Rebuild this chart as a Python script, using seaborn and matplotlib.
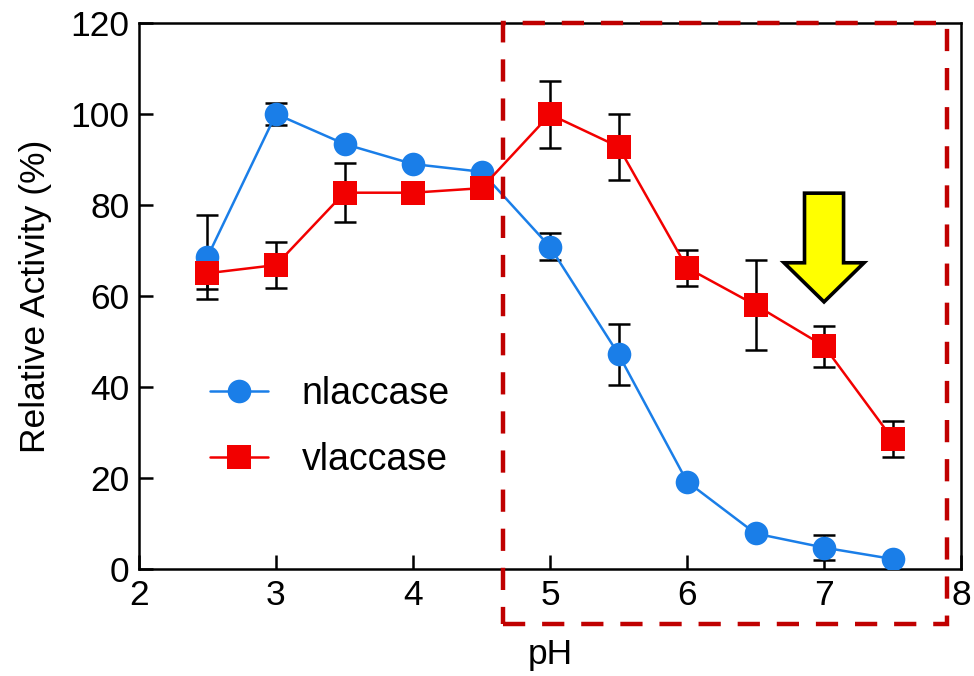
import matplotlib
matplotlib.use("Agg")
import matplotlib.pyplot as plt
from matplotlib.patches import Rectangle, Polygon
import numpy as np
import pandas as pd
import seaborn as sns

# pH values and relative activity (%) with error (SD)
ph = [2.5, 3.0, 3.5, 4.0, 4.5, 5.0, 5.5, 6.0, 6.5, 7.0, 7.5]
nlaccase = [68.6, 100.0, 93.4, 89.0, 87.3, 70.8, 47.2, 19.2, 7.8, 4.7, 2.2]
nlaccase_err = [9.2, 2.4, 0.0, 0.0, 0.0, 3.0, 6.7, 0.0, 0.0, 2.8, 0.0]
vlaccase = [65.0, 66.8, 82.7, 82.7, 83.7, 99.9, 92.8, 66.2, 58.0, 49.0, 28.6]
vlaccase_err = [3.5, 5.0, 6.5, 0.0, 0.0, 7.3, 7.2, 4.0, 9.8, 4.5, 4.0]

series_names = ["nlaccase", "vlaccase"]
series_colors = {"nlaccase": "#1a7ee8", "vlaccase": "#f20000"}
series_markers = {"nlaccase": "o", "vlaccase": "s"}

df = pd.DataFrame({
    "pH": ph * 2,
    "activity": nlaccase + vlaccase,
    "err": nlaccase_err + vlaccase_err,
    "enzyme": ["nlaccase"] * len(ph) + ["vlaccase"] * len(ph),
})

sns.set_style("ticks")
plt.rcParams["font.family"] = ["Liberation Sans", "DejaVu Sans"]
plt.rcParams["text.color"] = "black"
plt.rcParams["axes.labelcolor"] = "black"

FS = 25.5

fig = plt.figure(figsize=(9.74, 6.76), dpi=100)
ax = fig.add_axes([0.1427, 0.1583, 0.8440, 0.8077])

# error bars first, so markers sit on top of them
for name in series_names:
    sub = df[df["enzyme"] == name]
    sub = sub[sub["err"] > 0]
    ax.errorbar(sub["pH"], sub["activity"], yerr=sub["err"], fmt="none",
                ecolor="black", elinewidth=1.8, capsize=8, capthick=1.8,
                zorder=2)

sns.lineplot(data=df, x="pH", y="activity", hue="enzyme", style="enzyme",
             hue_order=series_names, style_order=series_names,
             palette=series_colors, markers=series_markers, dashes=False,
             linewidth=1.8, markersize=17, markeredgewidth=0,
             ax=ax, zorder=3, legend=True)

for line in ax.lines:
    line.set_zorder(3)

ax.set_xlim(2, 8)
ax.set_ylim(0, 120)
ax.set_xticks([2, 3, 4, 5, 6, 7, 8])
ax.set_yticks([0, 20, 40, 60, 80, 100, 120])
ax.tick_params(direction="in", length=10, width=1.8, labelsize=FS,
               colors="black", labelcolor="black", pad=7)
for s in ax.spines.values():
    s.set_linewidth(1.8)
    s.set_color("black")

ax.set_xlabel("pH", fontsize=FS, labelpad=19)
ax.set_ylabel("Relative Activity (%)", fontsize=FS, labelpad=13)

handles, labels = ax.get_legend_handles_labels()
leg = ax.legend(handles, labels, loc="center left",
                bbox_to_anchor=(0.086, 0.26), frameon=False, fontsize=27,
                handlelength=1.55, handletextpad=0.9, labelspacing=0.8,
                borderaxespad=0, borderpad=0)
for t in leg.get_texts():
    t.set_color("black")

# highlighted pH range
ax.add_patch(Rectangle((4.66, -12), 7.9 - 4.66, 132, fill=False,
                       edgecolor="#c00000", linewidth=3.2,
                       linestyle=(0, (5, 3.8)), clip_on=False, zorder=5))

# arrow pointing at the pH 7 vlaccase value
cx, body_w, head_w = 7.0, 0.285, 0.584
y_top, y_head, y_tip = 82.6, 67.3, 58.7
arrow_pts = [
    (cx - body_w / 2, y_top), (cx + body_w / 2, y_top),
    (cx + body_w / 2, y_head), (cx + head_w / 2, y_head),
    (cx, y_tip), (cx - head_w / 2, y_head), (cx - body_w / 2, y_head),
]
ax.add_patch(Polygon(arrow_pts, closed=True, facecolor="#ffff00",
                     edgecolor="black", linewidth=2.6, joinstyle="miter",
                     zorder=6))

fig.savefig("out.png", dpi=100)
